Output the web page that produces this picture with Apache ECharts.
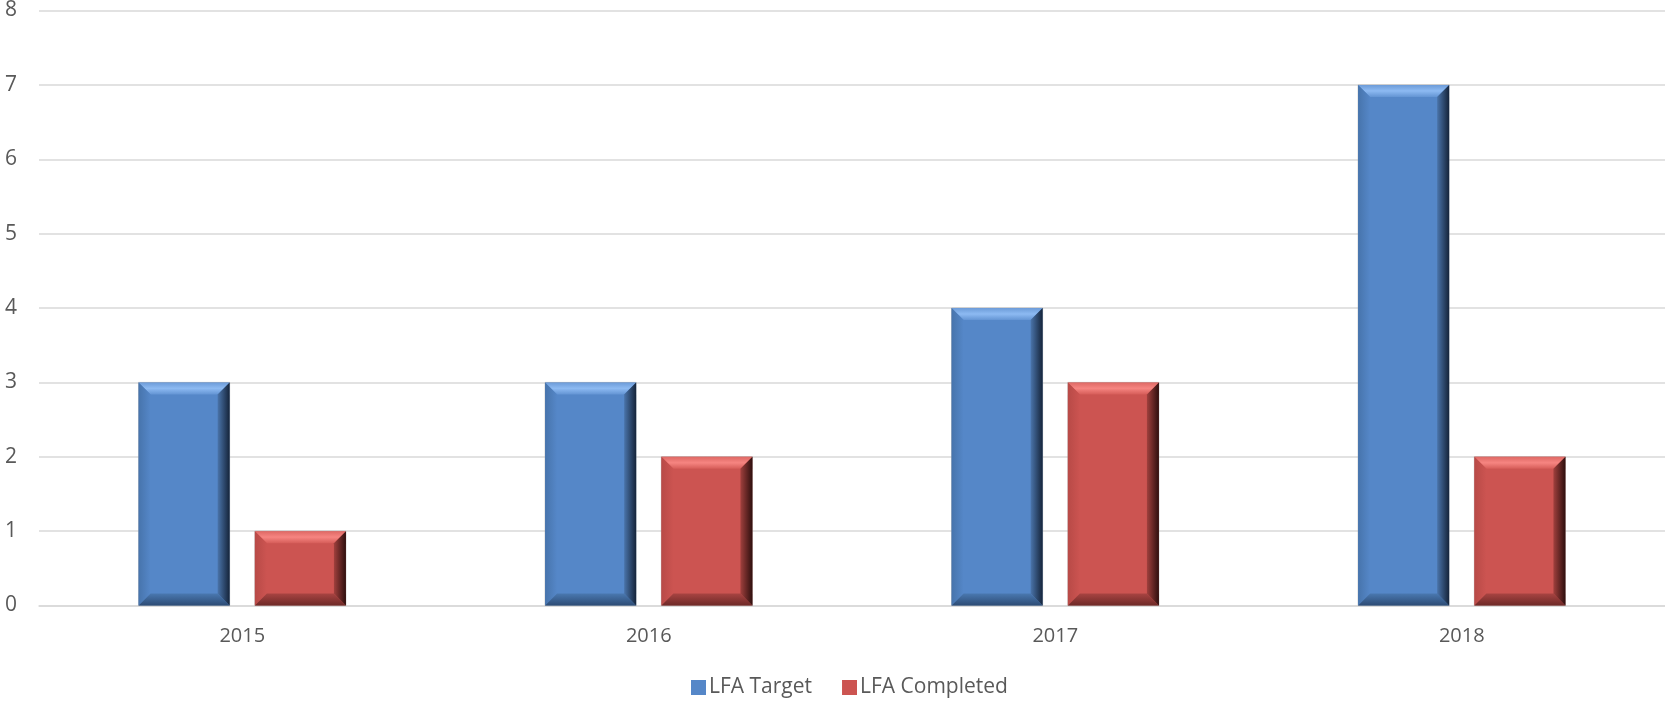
<!DOCTYPE html>
<html>
<head>
<meta charset="utf-8">
<script src="https://cdn.jsdelivr.net/npm/echarts@6/dist/echarts.min.js"></script>
<style>
html,body{margin:0;padding:0;background:#fff;}
#chart{width:1665px;height:708px;}
</style>
</head>
<body>
<div id="chart"></div>
<script>
const categories = ['2015', '2016', '2017', '2018'];
const lfaTarget = [3, 3, 4, 7];
const lfaCompleted = [1, 2, 3, 2];
const yTicks = [0, 1, 2, 3, 4, 5, 6, 7, 8];

const palettes = {
  blue: {
    main: '#5587c8', top: ['#6c9bd8', '#8dbaf2', '#6495d4'],
    right: ['#4a74aa', '#15243a'], bottom: ['#4a78b0', '#2d4c75'], left: ['#4774ac', '#5587c8']
  },
  red: {
    main: '#cc5451', top: ['#de6864', '#f68581', '#d65d59'],
    right: ['#a0403d', '#2e0f0e'], bottom: ['#a84442', '#6e2927'], left: ['#b84a47', '#cc5451']
  }
};

function lg(x, y, x2, y2, cols) {
  const stops = cols.map((c, i) => ({offset: cols.length === 1 ? 0 : i / (cols.length - 1), color: c}));
  return new echarts.graphic.LinearGradient(x, y, x2, y2, stops);
}

function makeRender(offsetFrac, pal) {
  return function (params, api) {
    const idx = api.value(0);
    const val = api.value(1);
    const c = api.coord([idx, val]);
    const base = api.coord([idx, 0]);
    const band = api.size([1, 0])[0];
    const w = band * 0.224;
    const cx = c[0] + band * offsetFrac;
    const x0 = cx - w / 2, x1 = cx + w / 2;
    const y0 = c[1], y1 = base[1];
    const b = Math.min(12, (y1 - y0) / 2);
    return {
      type: 'group',
      children: [
        {type: 'rect', shape: {x: x0, y: y0, width: x1 - x0, height: y1 - y0},
          style: {fill: pal.main, stroke: 'rgba(160,160,160,0.5)', lineWidth: 1}},
        {type: 'polygon', shape: {points: [[x0, y0], [x1, y0], [x1 - b, y0 + b], [x0 + b, y0 + b]]},
          style: {fill: lg(0, 0, 0, 1, pal.top)}},
        {type: 'polygon', shape: {points: [[x0, y0], [x0 + b, y0 + b], [x0 + b, y1 - b], [x0, y1]]},
          style: {fill: lg(0, 0, 1, 0, pal.left)}},
        {type: 'polygon', shape: {points: [[x0, y1], [x0 + b, y1 - b], [x1 - b, y1 - b], [x1, y1]]},
          style: {fill: lg(0, 0, 0, 1, pal.bottom)}},
        {type: 'polygon', shape: {points: [[x1, y0], [x1, y1], [x1 - b, y1 - b], [x1 - b, y0 + b]]},
          style: {fill: lg(0, 0, 1, 0, pal.right)}}
      ]
    };
  };
}

const chart = echarts.init(document.getElementById('chart'));
chart.setOption({
  animation: false,
  backgroundColor: '#ffffff',
  grid: {left: 39, right: 0, top: 10, bottom: 102.5, containLabel: false},
  legend: {
    bottom: 5, left: 686,
    itemWidth: 15, itemHeight: 15, itemGap: 30,
    icon: 'rect',
    textStyle: {fontFamily: 'Open Sans', fontSize: 21, color: '#595959', padding: [0, 0, 0, -2]},
    data: ['LFA Target', 'LFA Completed']
  },
  xAxis: {
    type: 'category',
    data: categories,
    axisLine: {show: true, lineStyle: {color: '#d9d9d9', width: 1.5}},
    axisTick: {show: false},
    axisLabel: {fontFamily: 'Open Sans', fontSize: 20, color: '#595959', margin: 21}
  },
  yAxis: {
    type: 'value',
    min: yTicks[0], max: yTicks[yTicks.length - 1], interval: 1,
    axisLine: {show: false},
    axisTick: {show: false},
    axisLabel: {fontFamily: 'Open Sans', fontSize: 21, color: '#595959', margin: 22},
    splitLine: {lineStyle: {color: '#d9d9d9', width: 1.5}}
  },
  series: [
    {
      name: 'LFA Target', type: 'custom',
      itemStyle: {color: palettes.blue.main},
      encode: {x: 0, y: 1},
      data: lfaTarget.map((v, i) => [i, v]),
      renderItem: makeRender(-0.143, palettes.blue)
    },
    {
      name: 'LFA Completed', type: 'custom',
      itemStyle: {color: palettes.red.main},
      encode: {x: 0, y: 1},
      data: lfaCompleted.map((v, i) => [i, v]),
      renderItem: makeRender(0.143, palettes.red)
    }
  ]
});
</script>
</body>
</html>
